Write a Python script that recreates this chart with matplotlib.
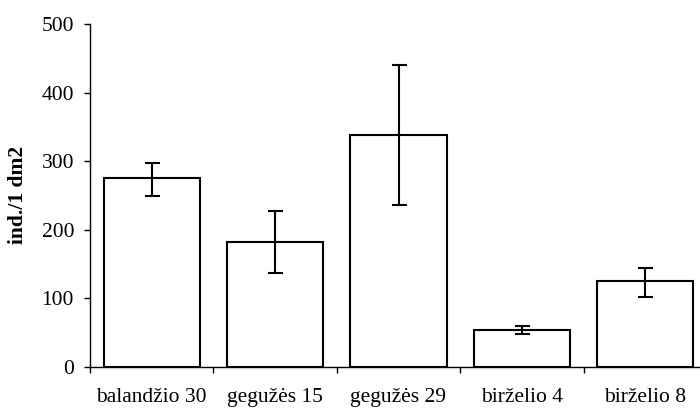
import matplotlib
matplotlib.use("Agg")
import matplotlib.pyplot as plt
import numpy as np

categories = ["balandžio 30", "gegužės 15", "gegužės 29", "birželio 4", "birželio 8"]
values = [276, 182, 338, 54, 125]
err_upper = [298, 228, 440, 60, 145]
err_lower = [250, 137, 236, 48, 102]
yticks = [0, 100, 200, 300, 400, 500]

plt.rcParams['font.family'] = ['Liberation Serif', 'DejaVu Serif']

fig = plt.figure(figsize=(7.0, 4.09), dpi=100)
ax = fig.add_axes([90/700, 42/409, 617/700, 343/409])

x = np.arange(len(categories))
vals = np.array(values)
yerr = np.array([vals - np.array(err_lower), np.array(err_upper) - vals])
ax.bar(x, vals, width=0.78, color='white', edgecolor='black', linewidth=1.5, zorder=2)
ax.errorbar(x, vals, yerr=yerr, fmt='none', ecolor='black', elinewidth=1.5,
            capsize=5.4, capthick=1.5, zorder=3)

ax.set_xlim(-0.5, len(categories) - 0.5)
ax.set_ylim(0, 500)
ax.set_yticks(yticks)
ax.set_yticklabels([str(v) for v in yticks], fontsize=15.5)
ax.set_xticks(np.arange(len(categories) + 1) - 0.5)
ax.set_xticklabels([])
ax.set_xticks(x, minor=True)
ax.set_xticklabels(categories, minor=True, fontsize=15.5)
ax.tick_params(axis='x', which='major', direction='out', length=4.5, width=1)
ax.tick_params(axis='x', which='minor', length=0, pad=15)
ax.tick_params(axis='y', direction='out', length=4.5, width=1, pad=7)

for s in ['top', 'right']:
    ax.spines[s].set_visible(False)
ax.spines['left'].set_linewidth(1)
ax.spines['bottom'].set_linewidth(1)

ax.set_ylabel("ind./1 dm2", fontsize=15.5, fontweight='bold')
ax.yaxis.set_label_coords(-62/617, 0.5)

fig.savefig("out.png", dpi=100)
